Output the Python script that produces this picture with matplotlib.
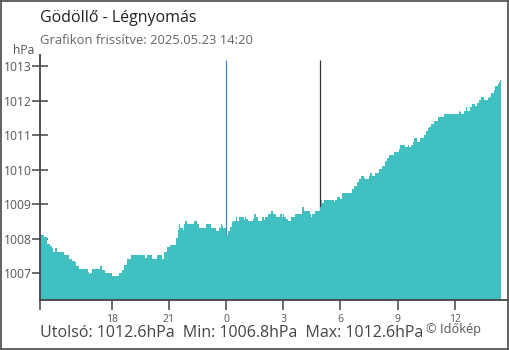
import matplotlib
matplotlib.use("Agg")
import matplotlib.pyplot as plt
from matplotlib.lines import Line2D

plt.rcParams["font.family"] = ["Open Sans", "DejaVu Sans"]

# step start times, minutes from midnight 2025.05.23 (negative = previous day)
minutes = [
    -585, -571, -563, -553, -547, -543, -537, -532, -508, -493,
    -485, -474, -471, -462, -435, -432, -427, -422, -396, -390,
    -380, -359, -338, -327, -320, -312, -298, -254, -249, -233,
    -217, -201, -196, -186, -175, -156, -152, -149, -146, -135,
    -131, -128, -123, -100, -91, -84, -62, -46, -31, -23,
    -16, -13, -8, 0, 6, 14, 18, 21, 32, 36,
    42, 58, 61, 64, 68, 85, 89, 93, 102, 112,
    118, 124, 131, 143, 148, 158, 171, 177, 179, 181,
    190, 194, 205, 218, 239, 246, 263, 267, 272, 281,
    295, 299, 302, 309, 339, 344, 349, 360, 365, 396,
    402, 412, 417, 426, 433, 438, 449, 454, 459, 470,
    482, 491, 501, 507, 512, 530, 543, 548, 564, 571,
    577, 582, 587, 592, 601, 609, 624, 630, 634, 640,
    646, 653, 667, 687, 734, 737, 740, 750, 755, 758,
    766, 775, 784, 790, 797, 803, 813, 825, 828, 835,
    842, 847, 855, 859, 861,
]
end_minute = 865

pressure = [
    1008.10, 1008.04, 1007.85, 1007.80, 1007.73, 1007.63, 1007.73, 1007.63, 1007.53, 1007.40,
    1007.36, 1007.32, 1007.21, 1007.12, 1007.05, 1006.97, 1007.02, 1007.12, 1007.21, 1007.10,
    1007.02, 1006.92, 1007.00, 1007.10, 1007.24, 1007.41, 1007.53, 1007.43, 1007.53, 1007.41,
    1007.53, 1007.41, 1007.63, 1007.77, 1007.82, 1008.01, 1008.25, 1008.43, 1008.30, 1008.25,
    1008.43, 1008.51, 1008.43, 1008.51, 1008.43, 1008.30, 1008.43, 1008.30, 1008.23, 1008.30,
    1008.43, 1008.36, 1008.30, 1008.11, 1008.23, 1008.35, 1008.47, 1008.51, 1008.63, 1008.51,
    1008.63, 1008.54, 1008.63, 1008.57, 1008.51, 1008.57, 1008.72, 1008.63, 1008.51, 1008.63,
    1008.54, 1008.63, 1008.72, 1008.80, 1008.72, 1008.63, 1008.72, 1008.63, 1008.72, 1008.63,
    1008.57, 1008.51, 1008.63, 1008.72, 1008.93, 1008.80, 1008.72, 1008.63, 1008.72, 1008.80,
    1008.93, 1009.12, 1009.03, 1009.12, 1009.05, 1009.12, 1009.21, 1009.16, 1009.33, 1009.43,
    1009.53, 1009.65, 1009.73, 1009.82, 1009.77, 1009.73, 1009.82, 1009.90, 1009.82, 1009.90,
    1010.02, 1010.11, 1010.25, 1010.33, 1010.43, 1010.52, 1010.60, 1010.72, 1010.65, 1010.72,
    1010.65, 1010.72, 1010.80, 1010.92, 1010.80, 1010.92, 1011.01, 1011.13, 1011.20, 1011.23,
    1011.33, 1011.41, 1011.53, 1011.62, 1011.70, 1011.66, 1011.62, 1011.70, 1011.82, 1011.70,
    1011.82, 1011.91, 1011.85, 1011.93, 1012.02, 1012.11, 1012.02, 1012.08, 1012.11, 1012.22,
    1012.31, 1012.43, 1012.48, 1012.55, 1012.60,
]

tick_minutes = [-585, -360, -180, 0, 180, 360, 540, 720]
tick_labels = ["", "18", "21", "0", "3", "6", "9", "12"]
y_ticks = [1007, 1008, 1009, 1010, 1011, 1012, 1013]

midnight = 0
sunrise = 295

title = "Gödöllő - Légnyomás"
subtitle = "Grafikon frissítve: 2025.05.23 14:20"
summary = "Utolsó: 1012.6hPa  Min: 1006.8hPa  Max: 1012.6hPa"

fig = plt.figure(figsize=(5.1, 3.5), dpi=100)
ax = fig.add_axes([40 / 510, 50 / 350, 468 / 510, 245 / 350])

ymin, ymax = 1006.226, 1013.319
ax.set_xlim(-585, 887)
ax.set_ylim(ymin, ymax)

# day change and sunrise markers, behind the bars
ax.vlines(midnight, ymin, 1013.17, color="#3a8ed0", lw=0.9, zorder=1)
ax.vlines(sunrise, ymin, 1013.17, color="#333333", lw=0.9, zorder=1)

ax.stairs(pressure, minutes + [end_minute], baseline=ymin, fill=True,
          color="#41c0c2", lw=0, zorder=2)

for s in ["top", "right"]:
    ax.spines[s].set_visible(False)
for s in ["left", "bottom"]:
    ax.spines[s].set_color("#444444")
    ax.spines[s].set_linewidth(1.3)
    ax.spines[s].set_zorder(3)

ax.set_yticks(y_ticks)
ax.set_yticklabels([str(v) for v in y_ticks])
ax.tick_params(axis="y", direction="inout", length=12, width=1.1, color="#444444",
               labelsize=8.7, labelcolor="#555555", pad=0)
ax.set_xticks(tick_minutes)
ax.set_xticklabels(tick_labels)
ax.tick_params(axis="x", direction="out", length=7, width=1.1, color="#444444",
               labelsize=7.5, labelcolor="#555555", pad=3)
ax.get_xticklines()[2 * 3].set_color("#3a8ed0")

fig.text(40 / 510, 1 - 18 / 350, title, fontsize=11.5, color="#222222", va="center")
fig.text(40 / 510, 1 - 40 / 350, subtitle, fontsize=9.4, color="#666666", va="center")
fig.text(34 / 510, 1 - 50 / 350, "hPa", fontsize=8.7, color="#555555", va="center", ha="right")
fig.text(40 / 510, 1 - 333 / 350, summary, fontsize=11.5, color="#444444", va="center")
fig.text(426 / 510, 1 - 330 / 350, "© Időkép", fontsize=9.2, color="#555555", va="center")

# outer frame
for xs, ys in [([0.002, 0.002], [0, 1]), ([0.997, 0.997], [0, 1]),
               ([0, 1], [0.004, 0.004]), ([0, 1], [0.998, 0.998])]:
    fig.add_artist(Line2D(xs, ys, transform=fig.transFigure, color="#555555", lw=1.3))

fig.savefig("out.png", dpi=100)
